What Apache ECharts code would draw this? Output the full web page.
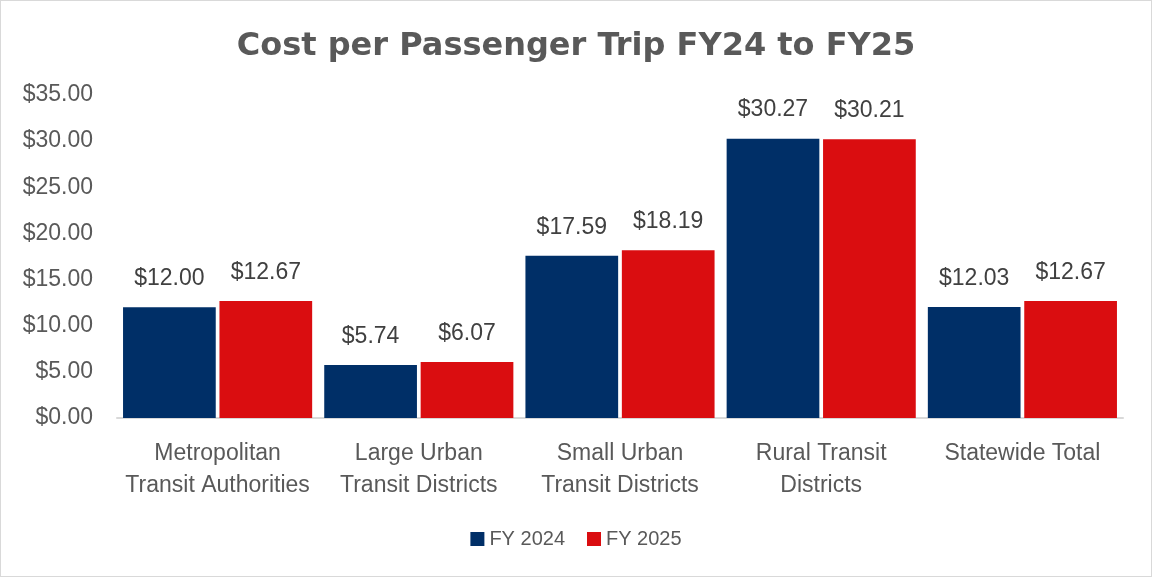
<!DOCTYPE html>
<html>
<head>
<meta charset="utf-8">
<script src="https://cdn.jsdelivr.net/npm/echarts@6/dist/echarts.min.js"></script>
<style>
  html, body { margin: 0; padding: 0; background: #fff; }
  #chart { width: 1150px; height: 575px; border: 1px solid #d9d9d9; }
</style>
</head>
<body>
<div id="chart"></div>
<script>
const categories = [
  'Metropolitan\nTransit Authorities',
  'Large Urban\nTransit Districts',
  'Small Urban\nTransit Districts',
  'Rural Transit\nDistricts',
  'Statewide Total'
]
const fy2024 = [12.00, 5.74, 17.59, 30.27, 12.03]
const fy2025 = [12.67, 6.07, 18.19, 30.21, 12.67]

const money = v => '$' + Number(v).toFixed(2)

const chart = echarts.init(document.getElementById('chart'))

const labelStyle = {
  show: true,
  position: 'top',
  distance: 17,
  color: '#404040',
  fontSize: 23,
  fontFamily: 'Liberation Sans, Arial, sans-serif',
  formatter: p => money(p.value)
}

chart.setOption({
  animation: false,
  title: {
    text: 'Cost per Passenger Trip FY24 to FY25',
    left: 'center',
    top: 25,
    textStyle: {
      color: '#595959',
      fontSize: 32,
      fontWeight: 'bold',
      fontFamily: 'DejaVu Sans, Verdana, sans-serif'
    }
  },
  legend: {
    bottom: 22,
    left: 'center',
    itemWidth: 14,
    itemHeight: 14,
    itemGap: 22,
    icon: 'rect',
    textStyle: {
      color: '#595959',
      fontSize: 20,
      fontFamily: 'Liberation Sans, Arial, sans-serif'
    },
    data: ['FY 2024', 'FY 2025']
  },
  grid: {
    left: 116,
    right: 28,
    top: 94,
    bottom: 158
  },
  xAxis: {
    type: 'category',
    data: categories,
    axisTick: { show: false },
    axisLine: { lineStyle: { color: '#d9d9d9', width: 2 } },
    axisLabel: {
      color: '#595959',
      fontSize: 23,
      lineHeight: 32,
      margin: 20,
      interval: 0,
      fontFamily: 'Liberation Sans, Arial, sans-serif'
    }
  },
  yAxis: {
    type: 'value',
    min: 0,
    max: 35,
    interval: 5,
    splitLine: { show: false },
    axisLine: { show: false },
    axisTick: { show: false },
    axisLabel: {
      color: '#595959',
      fontSize: 23,
      margin: 24,
      fontFamily: 'Liberation Sans, Arial, sans-serif',
      formatter: v => money(v)
    }
  },
  series: [
    {
      name: 'FY 2024',
      type: 'bar',
      data: fy2024,
      barGap: '4%',
      barCategoryGap: '6%',
      itemStyle: { color: '#002F67' },
      label: labelStyle
    },
    {
      name: 'FY 2025',
      type: 'bar',
      data: fy2025,
      itemStyle: { color: '#DA0D10' },
      label: labelStyle
    }
  ]
})
</script>
</body>
</html>
